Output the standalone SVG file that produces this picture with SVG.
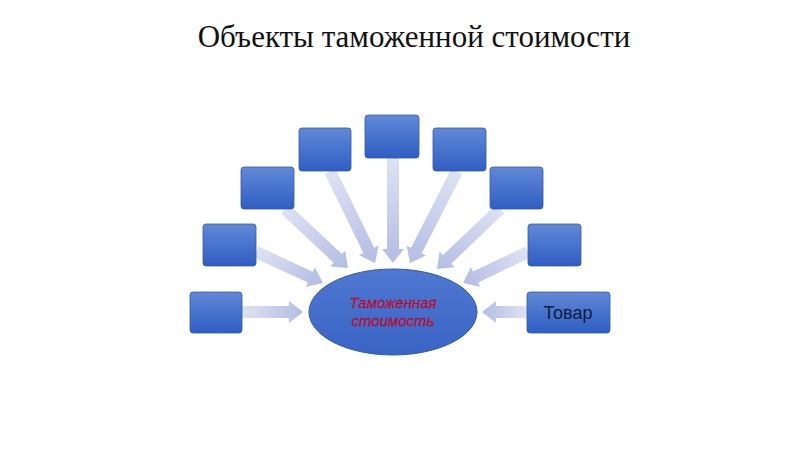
<svg xmlns="http://www.w3.org/2000/svg" width="800" height="450" viewBox="0 0 800 450">
<defs>
<linearGradient id="bx" x1="0" y1="0" x2="0" y2="1"><stop offset="0" stop-color="#6189d6"/><stop offset="1" stop-color="#2f5ec4"/></linearGradient>
<linearGradient id="el" x1="0" y1="0" x2="0" y2="1"><stop offset="0" stop-color="#4f78d2"/><stop offset="1" stop-color="#3a64c4"/></linearGradient>
<linearGradient id="ar" x1="0" y1="0" x2="1" y2="0"><stop offset="0" stop-color="#dde2f3"/><stop offset="1" stop-color="#b4bde3"/></linearGradient>
<style>
.box{fill:url(#bx);stroke:#3558a8;stroke-width:0.8}
.arr{fill:url(#ar)}
.t{font-family:"Liberation Sans",Arial,sans-serif}
</style>
</defs>
<rect width="800" height="450" fill="#fff"/>
<text x="414" y="47" text-anchor="middle" font-family="Liberation Serif,Times New Roman,serif" font-size="31" fill="#111">Объекты таможенной стоимости</text>
<g id="connectors">
<path class="arr" transform="translate(303,312) rotate(0)" d="M-61,-6H-14V-11L0,0L-14,11V6H-61Z"/>
<path class="arr" transform="translate(323,283) rotate(24.8)" d="M-74,-6H-14V-11L0,0L-14,11V6H-74Z"/>
<path class="arr" transform="translate(348,268) rotate(43.1)" d="M-86,-6H-14V-11L0,0L-14,11V6H-86Z"/>
<path class="arr" transform="translate(375,263) rotate(63.9)" d="M-102,-6H-14V-11L0,0L-14,11V6H-102Z"/>
<path class="arr" transform="translate(393,263) rotate(90)" d="M-105,-6H-14V-11L0,0L-14,11V6H-105Z"/>
<path class="arr" transform="translate(410,263) rotate(117.1)" d="M-103,-6H-14V-11L0,0L-14,11V6H-103Z"/>
<path class="arr" transform="translate(437,269) rotate(136.4)" d="M-87,-6H-14V-11L0,0L-14,11V6H-87Z"/>
<path class="arr" transform="translate(463,283) rotate(154.5)" d="M-72,-6H-14V-11L0,0L-14,11V6H-72Z"/>
<path class="arr" transform="translate(482,312) rotate(180)" d="M-45,-6H-14V-11L0,0L-14,11V6H-45Z"/>
</g>
<g id="b1"><rect class="box" x="190" y="292" width="52" height="41" rx="3"/></g>
<g id="b2"><rect class="box" x="203" y="224" width="53" height="42" rx="3"/></g>
<g id="b3"><rect class="box" x="241" y="167" width="53" height="42" rx="3"/></g>
<g id="b4"><rect class="box" x="299" y="128" width="52" height="43" rx="3"/></g>
<g id="b5"><rect class="box" x="365" y="115" width="54" height="43" rx="3"/></g>
<g id="b6"><rect class="box" x="433" y="128" width="53" height="43" rx="3"/></g>
<g id="b7"><rect class="box" x="490" y="167" width="53" height="42" rx="3"/></g>
<g id="b8"><rect class="box" x="528" y="224" width="53" height="42" rx="3"/></g>
<g id="tovar"><rect class="box" x="527" y="292" width="83" height="41" rx="3"/><text class="t" x="568" y="319" text-anchor="middle" font-size="18" fill="#0e1a3a">Товар</text></g>
<g id="center"><ellipse cx="393" cy="312" rx="84" ry="43" fill="url(#el)" stroke="#3558a8" stroke-width="1"/>
<text class="t" x="393" y="308" text-anchor="middle" font-size="15" font-style="italic" fill="#e0103c" stroke="#7a0a20" stroke-width="0.3">Таможенная</text>
<text class="t" x="393" y="326" text-anchor="middle" font-size="15" font-style="italic" fill="#e0103c" stroke="#7a0a20" stroke-width="0.3">стоимость</text></g>
</svg>
